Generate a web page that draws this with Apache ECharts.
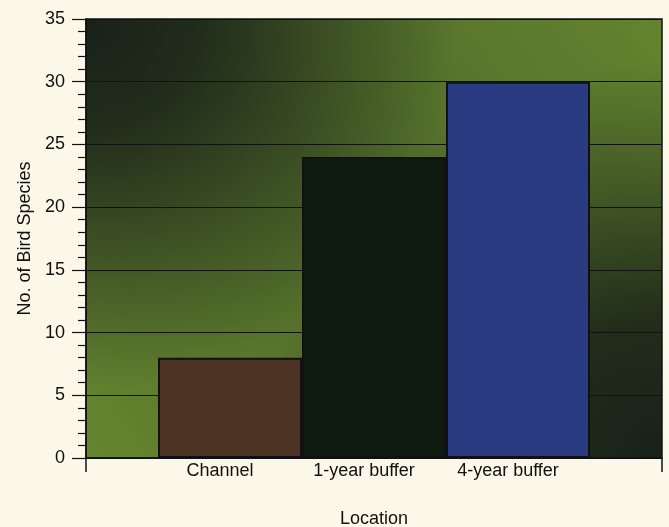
<!DOCTYPE html>
<html>
<head>
<meta charset="utf-8">
<script src="https://cdn.jsdelivr.net/npm/echarts@6/dist/echarts.min.js"></script>
<style>
html,body{margin:0;padding:0;background:#fbf8e9;}
#main{width:669px;height:527px;}
</style>
</head>
<body>
<div id="main"></div>
<script>
var categories = ['Channel', '1-year buffer', '4-year buffer'];
var positions = [1, 2, 3];
var values = [8, 24, 30];
var barColors = ['#4b3222', '#0f1a10', '#2b3b82'];
var yTicks = [0, 5, 10, 15, 20, 25, 30, 35];

var FONT = "'Liberation Sans', Arial, Helvetica, sans-serif";
var chart = echarts.init(document.getElementById('main'));
var gridLeft = 86, gridRight = 7;
var plotWidth = 669 - gridLeft - gridRight;
var barW = plotWidth / 4;

chart.setOption({
  backgroundColor: '#fbf8e9',
  animation: false,
  textStyle: { fontFamily: FONT },
  grid: {
    left: gridLeft, right: gridRight, top: 19, bottom: 69,
    outerBoundsMode: 'none',
    containLabel: false,
    show: true,
    borderColor: '#111',
    borderWidth: 1.5,
    backgroundColor: 'transparent'
  },
  xAxis: {
    type: 'value',
    min: 0, max: 4, interval: 1,
    name: 'Location',
    nameLocation: 'middle',
    nameGap: 52,
    nameTextStyle: { fontSize: 18, color: '#111', fontFamily: FONT },
    axisLine: { show: true, lineStyle: { color: '#111', width: 1.5 } },
    axisTick: { show: true, customValues: [0, 4], length: 14, lineStyle: { color: '#111', width: 1.5 } },
    axisLabel: {
      customValues: positions,
      formatter: function (v) { return categories[positions.indexOf(v)] || ''; },
      fontSize: 18, color: '#111', margin: 4, fontFamily: FONT,
      padding: [0, 20, 0, 0]
    },
    splitLine: { show: false }
  },
  yAxis: {
    type: 'value',
    min: yTicks[0], max: yTicks[yTicks.length - 1], interval: 5,
    name: 'No. of Bird Species',
    nameLocation: 'middle',
    nameGap: 42,
    nameTextStyle: { fontSize: 18, color: '#111', fontFamily: FONT },
    axisLine: { show: true, lineStyle: { color: '#111', width: 1.5 } },
    axisTick: { show: true, length: 14, lineStyle: { color: '#111', width: 1.2 } },
    minorTick: { show: true, splitNumber: 5, length: 8, lineStyle: { color: '#111', width: 1.2 } },
    axisLabel: { fontSize: 18, color: '#111', margin: 21, fontFamily: FONT },
    splitLine: { show: true, lineStyle: { color: '#111', width: 1 } }
  },
  series: [{
    type: 'bar',
    barWidth: barW,
    data: positions.map(function (p, i) {
      return {
        value: [p, values[i]],
        itemStyle: { color: barColors[i], borderColor: '#111', borderWidth: 2 }
      };
    })
  }]
});

// plot-area background shading, placed from the grid's own coordinate system
var tl = chart.convertToPixel({ xAxisIndex: 0, yAxisIndex: 0 }, [0, 35]);
var br = chart.convertToPixel({ xAxisIndex: 0, yAxisIndex: 0 }, [4, 0]);
var rectShape = { x: tl[0], y: tl[1], width: br[0] - tl[0], height: br[1] - tl[1] };
var dark = function (a) { return 'rgba(24,33,24,' + a + ')'; };
chart.setOption({
  graphic: [
    {
      type: 'rect', z: -10, silent: true, shape: rectShape,
      style: {
        fill: new echarts.graphic.LinearGradient(1, 0, 0, 1, [
          { offset: 0, color: '#64832f' },
          { offset: 0.5, color: '#4f6a2a' },
          { offset: 1, color: '#65852f' }
        ])
      }
    },
    {
      type: 'rect', z: -9, silent: true, shape: rectShape,
      style: {
        fill: new echarts.graphic.RadialGradient(0, 0, 0.85, [
          { offset: 0, color: dark(1) },
          { offset: 0.3, color: dark(0.85) },
          { offset: 0.7, color: dark(0.35) },
          { offset: 1, color: dark(0) }
        ])
      }
    },
    {
      type: 'rect', z: -9, silent: true, shape: rectShape,
      style: {
        fill: new echarts.graphic.RadialGradient(1, 1, 0.9, [
          { offset: 0, color: dark(1) },
          { offset: 0.35, color: dark(0.85) },
          { offset: 0.7, color: dark(0.35) },
          { offset: 1, color: dark(0) }
        ])
      }
    }
  ]
});
</script>
</body>
</html>
